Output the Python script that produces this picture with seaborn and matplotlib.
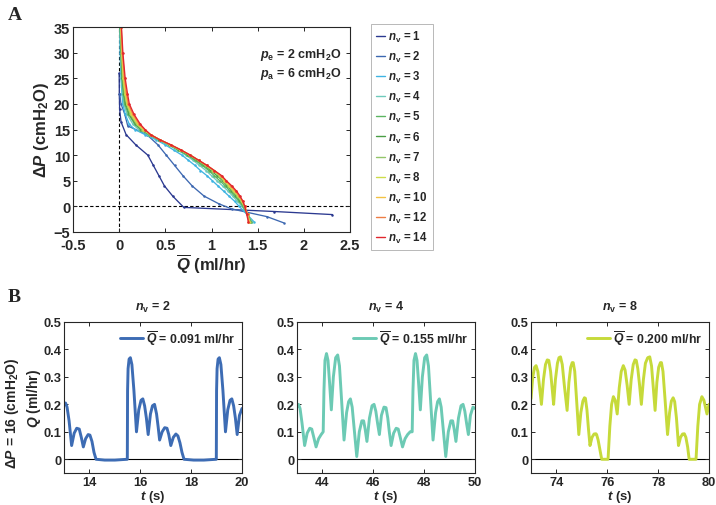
import seaborn as sns
import matplotlib.pyplot as plt
from matplotlib.ticker import FuncFormatter

# style
sns.set_style('ticks')
plt.rcParams['font.family'] = ['Liberation Sans', 'DejaVu Sans']
plt.rcParams['font.weight'] = 'bold'
plt.rcParams['axes.labelweight'] = 'bold'
plt.rcParams['axes.titleweight'] = 'bold'
plt.rcParams['mathtext.fontset'] = 'custom'
plt.rcParams['mathtext.rm'] = 'Liberation Sans:bold'
plt.rcParams['mathtext.it'] = 'Liberation Sans:italic:bold'
plt.rcParams['mathtext.bf'] = 'Liberation Sans:bold'
plt.rcParams['xtick.direction'] = 'in'
plt.rcParams['ytick.direction'] = 'in'
plt.rcParams['xtick.top'] = True
plt.rcParams['ytick.right'] = True
plt.rcParams['axes.linewidth'] = 0.8

# ---- panel A data: mean flow vs pressure drop ----
nv_values = [1, 2, 3, 4, 5, 6, 7, 8, 10, 12, 14]
nv_colors = ['#2b3990', '#3d68b1', '#3fb4e3', '#6fcabb', '#5cb561', '#4a9e45',
             '#93c66a', '#cddc4a', '#f3c244', '#ee7d45', '#e1262d']

dp_1 = [26, 22, 19, 16.5, 14, 12, 10, 8, 6, 4, 2, -0.2, -1.0, -1.6]
q_1 = [0.0, 0.002, 0.005, 0.02, 0.075, 0.18, 0.31, 0.37, 0.43, 0.49, 0.58, 0.70, 1.68, 2.31]

dp_2 = [22, 20, 18, 15.7, 14, 12, 10, 8, 6, 4, 2, 0.5, -0.5, -2, -3.2]
q_2 = [0.005, 0.02, 0.06, 0.093, 0.30, 0.42, 0.51, 0.60, 0.69, 0.79, 0.92, 1.08, 1.22, 1.60, 1.78]

dp_grid = [35, 30, 25, 22, 20, 18, 16, 15, 14, 13, 12, 11, 10, 9, 8, 7, 6, 5, 4, 3, 2, 1, 0, -1.5, -3]
q_3 = [0.005, 0.01, 0.02, 0.03, 0.04, 0.065, 0.11, 0.17, 0.28, 0.40, 0.50, 0.59, 0.68, 0.75, 0.82, 0.88, 0.95, 1.01, 1.07, 1.13, 1.19, 1.25, 1.30, 1.38, 1.46]
q_4 = [0.008, 0.015, 0.025, 0.037, 0.05, 0.085, 0.15, 0.21, 0.31, 0.42, 0.53, 0.63, 0.72, 0.80, 0.87, 0.94, 1.00, 1.06, 1.12, 1.18, 1.23, 1.28, 1.33, 1.39, 1.44]
q_5 = [0.01, 0.02, 0.03, 0.045, 0.06, 0.10, 0.17, 0.23, 0.32, 0.43, 0.54, 0.64, 0.74, 0.82, 0.90, 0.97, 1.03, 1.09, 1.15, 1.20, 1.25, 1.30, 1.34, 1.39, 1.43]
q_6 = [0.012, 0.022, 0.035, 0.052, 0.07, 0.11, 0.18, 0.24, 0.33, 0.43, 0.55, 0.65, 0.75, 0.84, 0.92, 0.99, 1.06, 1.12, 1.17, 1.22, 1.27, 1.31, 1.35, 1.39, 1.42]
q_7 = [0.015, 0.025, 0.04, 0.058, 0.08, 0.12, 0.19, 0.25, 0.33, 0.44, 0.55, 0.66, 0.76, 0.85, 0.93, 1.01, 1.08, 1.13, 1.18, 1.23, 1.28, 1.32, 1.35, 1.39, 1.42]
q_8 = [0.017, 0.028, 0.045, 0.065, 0.085, 0.13, 0.20, 0.26, 0.34, 0.44, 0.55, 0.66, 0.77, 0.86, 0.94, 1.02, 1.09, 1.14, 1.19, 1.24, 1.29, 1.33, 1.36, 1.39, 1.41]
q_10 = [0.02, 0.032, 0.05, 0.072, 0.095, 0.14, 0.21, 0.27, 0.34, 0.44, 0.56, 0.67, 0.77, 0.86, 0.95, 1.03, 1.10, 1.15, 1.20, 1.25, 1.30, 1.33, 1.36, 1.39, 1.41]
q_12 = [0.022, 0.036, 0.058, 0.08, 0.10, 0.15, 0.22, 0.275, 0.34, 0.44, 0.56, 0.67, 0.77, 0.86, 0.95, 1.03, 1.10, 1.16, 1.21, 1.26, 1.30, 1.34, 1.36, 1.39, 1.40]
q_14 = [0.025, 0.04, 0.065, 0.09, 0.11, 0.16, 0.23, 0.28, 0.34, 0.44, 0.56, 0.67, 0.77, 0.86, 0.95, 1.03, 1.11, 1.16, 1.22, 1.27, 1.31, 1.34, 1.36, 1.38, 1.40]

curves_A = [(q_1, dp_1), (q_2, dp_2), (q_3, dp_grid), (q_4, dp_grid), (q_5, dp_grid),
            (q_6, dp_grid), (q_7, dp_grid), (q_8, dp_grid), (q_10, dp_grid),
            (q_12, dp_grid), (q_14, dp_grid)]

# ---- panel B data: flow vs time at dP = 16 ----
t_nv2 = [13.00, 13.06, 13.12, 13.20, 13.30, 13.40, 13.50, 13.60, 13.68, 13.76,
         13.85, 13.95, 14.02, 14.10, 14.18, 14.26, 14.60, 15.00, 15.49,
         15.50, 15.52, 15.56, 15.61, 15.67, 15.75, 15.85, 15.94, 16.03, 16.10,
         16.17, 16.24, 16.31, 16.40, 16.48, 16.56, 16.64, 16.70, 16.76, 16.86,
         16.96, 17.05, 17.12, 17.20, 17.30, 17.40, 17.48, 17.56, 17.64, 17.72,
         18.10, 18.50, 18.99,
         19.00, 19.02, 19.06, 19.11, 19.17, 19.25, 19.35, 19.44, 19.53, 19.60,
         19.67, 19.74, 19.81, 19.90, 20.00]
q_nv2 = [0.200, 0.205, 0.190, 0.140, 0.050, 0.095, 0.113, 0.110, 0.080, 0.045,
         0.075, 0.090, 0.088, 0.065, 0.025, 0.000, -0.003, -0.003, 0.000,
         0.250, 0.330, 0.365, 0.370, 0.345, 0.250, 0.100, 0.180, 0.215, 0.220,
         0.195, 0.150, 0.090, 0.165, 0.195, 0.200, 0.165, 0.120, 0.070, 0.100,
         0.115, 0.113, 0.090, 0.050, 0.080, 0.092, 0.085, 0.060, 0.025, 0.000,
         -0.003, -0.003, 0.000,
         0.250, 0.330, 0.365, 0.370, 0.345, 0.250, 0.100, 0.180, 0.215, 0.220,
         0.195, 0.150, 0.090, 0.160, 0.185]

t_nv4 = [43.00, 43.06, 43.12, 43.20, 43.30, 43.40, 43.50, 43.58, 43.66, 43.75,
         43.85, 43.95, 44.03, 44.06, 44.10, 44.16, 44.22, 44.28, 44.35, 44.43,
         44.52, 44.60, 44.67, 44.75, 44.85, 44.95, 45.03, 45.10, 45.17, 45.25,
         45.35, 45.45, 45.55, 45.62, 45.68, 45.75, 45.85, 45.95, 46.03, 46.10,
         46.17, 46.24, 46.32, 46.42, 46.50, 46.57, 46.63, 46.70, 46.80, 46.90,
         46.98, 47.06, 47.15, 47.25, 47.35, 47.45, 47.53, 47.56, 47.60, 47.66,
         47.72, 47.78, 47.85, 47.93, 48.02, 48.10, 48.17, 48.25, 48.35, 48.45,
         48.53, 48.60, 48.67, 48.75, 48.85, 48.95, 49.05, 49.12, 49.18, 49.25,
         49.35, 49.45, 49.53, 49.60, 49.67, 49.74, 49.82, 49.92, 50.00]
q_nv4 = [0.190, 0.200, 0.185, 0.130, 0.050, 0.095, 0.113, 0.110, 0.080, 0.045,
         0.075, 0.090, 0.100, 0.250, 0.360, 0.385, 0.360, 0.280, 0.180, 0.300,
         0.370, 0.380, 0.340, 0.220, 0.070, 0.170, 0.210, 0.220, 0.190, 0.110,
         0.010, 0.100, 0.140, 0.140, 0.110, 0.065, 0.150, 0.195, 0.200, 0.175,
         0.130, 0.090, 0.160, 0.190, 0.188, 0.150, 0.100, 0.050, 0.095, 0.113,
         0.110, 0.080, 0.045, 0.075, 0.090, 0.100, 0.100, 0.250, 0.360, 0.385,
         0.360, 0.280, 0.180, 0.300, 0.370, 0.380, 0.340, 0.220, 0.070, 0.170,
         0.210, 0.220, 0.190, 0.110, 0.010, 0.100, 0.140, 0.140, 0.110, 0.065,
         0.150, 0.195, 0.200, 0.175, 0.130, 0.090, 0.160, 0.190, 0.185]

t_nv8 = [73.00, 73.07, 73.14, 73.20, 73.27, 73.34, 73.41, 73.49, 73.57, 73.64,
         73.70, 73.77, 73.83, 73.89, 73.96, 74.04, 74.10, 74.16, 74.23, 74.31,
         74.42, 74.49, 74.56, 74.62, 74.66, 74.72, 74.79, 74.88, 74.96, 75.04,
         75.10, 75.14, 75.20, 75.26, 75.32, 75.40, 75.48, 75.55, 75.58, 75.64,
         75.71, 75.78, 76.03, 76.10, 76.17, 76.24, 76.31, 76.39, 76.47, 76.55,
         76.63, 76.70, 76.78, 76.86, 76.94, 77.02, 77.09, 77.14, 77.20, 77.27,
         77.34, 77.42, 77.50, 77.59, 77.67, 77.74, 77.81, 77.88, 77.95, 78.02,
         78.09, 78.13, 78.19, 78.27, 78.37, 78.45, 78.52, 78.59, 78.65, 78.72,
         78.80, 78.88, 78.96, 79.03, 79.09, 79.16, 79.22, 79.49, 79.56, 79.63,
         79.72, 79.80, 79.92, 80.00]
q_nv8 = [0.220, 0.300, 0.335, 0.341, 0.320, 0.260, 0.200, 0.290, 0.345, 0.362,
         0.360, 0.320, 0.260, 0.200, 0.290, 0.350, 0.370, 0.373, 0.345, 0.270,
         0.178, 0.280, 0.335, 0.352, 0.352, 0.320, 0.220, 0.090, 0.170, 0.212,
         0.224, 0.222, 0.180, 0.110, 0.050, 0.080, 0.092, 0.093, 0.090, 0.070,
         0.035, 0.000, 0.000, 0.120, 0.200, 0.228, 0.215, 0.165, 0.260, 0.320,
         0.341, 0.325, 0.270, 0.200, 0.290, 0.345, 0.362, 0.360, 0.330, 0.270,
         0.200, 0.290, 0.350, 0.370, 0.373, 0.340, 0.260, 0.178, 0.280, 0.335,
         0.352, 0.352, 0.320, 0.220, 0.090, 0.170, 0.212, 0.224, 0.210, 0.150,
         0.050, 0.080, 0.092, 0.093, 0.080, 0.045, 0.000, 0.000, 0.120, 0.200,
         0.228, 0.215, 0.165, 0.200]

b_nv = [2, 4, 8]
b_colors = ['#3d6cb4', '#6ccab4', '#c6da3a']
b_qmean = ['0.091', '0.155', '0.200']
b_xlims = [(13, 20), (43, 50), (73, 80)]
b_xticks = [[14, 16, 18, 20], [44, 46, 48, 50], [74, 76, 78, 80]]
b_series = [(t_nv2, q_nv2), (t_nv4, q_nv4), (t_nv8, q_nv8)]

fmt = FuncFormatter(lambda v, p: '%g' % v)

W, H = 716, 506
fig = plt.figure(figsize=(W / 100, H / 100), dpi=100)

# ---- panel A ----
axA = fig.add_axes([73 / W, 1 - 233 / H, 277 / W, 205 / H])
for (q, dp), nv, col in zip(curves_A, nv_values, nv_colors):
    sns.lineplot(x=q, y=dp, sort=False, estimator=None, ax=axA, color=col,
                 lw=0.95, marker='o', markersize=1.8, markeredgewidth=0,
                 label=r'$n_{\rm v}$ = %d' % nv)
axA.axhline(0, color='k', ls=(0, (3, 2)), lw=0.8, zorder=0)
axA.axvline(0, color='k', ls=(0, (3, 2)), lw=0.8, zorder=0)
axA.set_xlim(-0.5, 2.5)
axA.set_ylim(-5, 35)
axA.set_xticks([-0.5, 0, 0.5, 1, 1.5, 2, 2.5])
axA.set_yticks(range(-5, 36, 5))
axA.xaxis.set_major_formatter(fmt)
axA.tick_params(labelsize=10.5, length=3, width=0.7, pad=2)
axA.tick_params(axis='x', pad=4)
axA.set_xlabel(r'$\overline{Q}$ (ml/hr)', fontsize=12, labelpad=0)
axA.set_ylabel(r'$\Delta P$ (cmH$_2$O)', fontsize=12, labelpad=2)
axA.text(0.97, 0.905, r'$p_{\rm e}$ = 2 cmH$_2$O' + '\n' + r'$p_{\rm a}$ = 6 cmH$_2$O',
         transform=axA.transAxes, ha='right', va='top', fontsize=9, linespacing=1.25)
leg = axA.legend(loc='upper left', bbox_to_anchor=(371 / W, 1 - 25 / H),
                 bbox_transform=fig.transFigure, fontsize=8.3, frameon=True,
                 fancybox=False, edgecolor='#999999', handlelength=0.85,
                 handletextpad=0.25, labelspacing=0.44, borderpad=0.4,
                 borderaxespad=0)
leg.get_frame().set_linewidth(0.6)
for h in leg.get_lines():
    h.set_marker('')
    h.set_linewidth(1.0)
fig.text(8 / W, 1 - 15 / H, 'A', fontsize=14, fontweight='bold',
         family='Liberation Serif', va='center')

# ---- panel B ----
b_left = [64, 297, 531]
for i in range(3):
    ax = fig.add_axes([b_left[i] / W, 1 - 474 / H, 178 / W, 151 / H])
    t, q = b_series[i]
    sns.lineplot(x=t, y=q, sort=False, estimator=None, ax=ax, color=b_colors[i],
                 lw=2.1, label=r'$\overline{Q}$ = %s ml/hr' % b_qmean[i])
    ax.axhline(0, color='k', lw=0.8, zorder=0)
    ax.set_xlim(*b_xlims[i])
    ax.set_ylim(-0.05, 0.5)
    ax.set_xticks(b_xticks[i])
    ax.set_yticks([0, 0.1, 0.2, 0.3, 0.4, 0.5])
    ax.yaxis.set_major_formatter(fmt)
    ax.tick_params(labelsize=9.3, length=3, width=0.7, pad=2)
    ax.set_xlabel(r'$t$ (s)', fontsize=9.5, labelpad=0)
    ax.set_title(r'$n_{\rm v}$ = %d' % b_nv[i], fontsize=9, pad=9)
    ax.legend(loc='upper right', fontsize=8.8, frameon=False, handlelength=1.9,
              handletextpad=0.25, borderaxespad=0.15)
    if i == 0:
        ax.set_ylabel(r'$Q$ (ml/hr)', fontsize=10, labelpad=0)
    else:
        ax.set_ylabel('')

fig.text(12 / W, 1 - 413 / H, r'$\Delta P$ = 16 (cmH$_2$O)', rotation=90,
         fontsize=10, ha='center', va='center')
fig.text(8 / W, 1 - 298 / H, 'B', fontsize=14, fontweight='bold',
         family='Liberation Serif', va='center')

fig.savefig('out.png', dpi=100)
